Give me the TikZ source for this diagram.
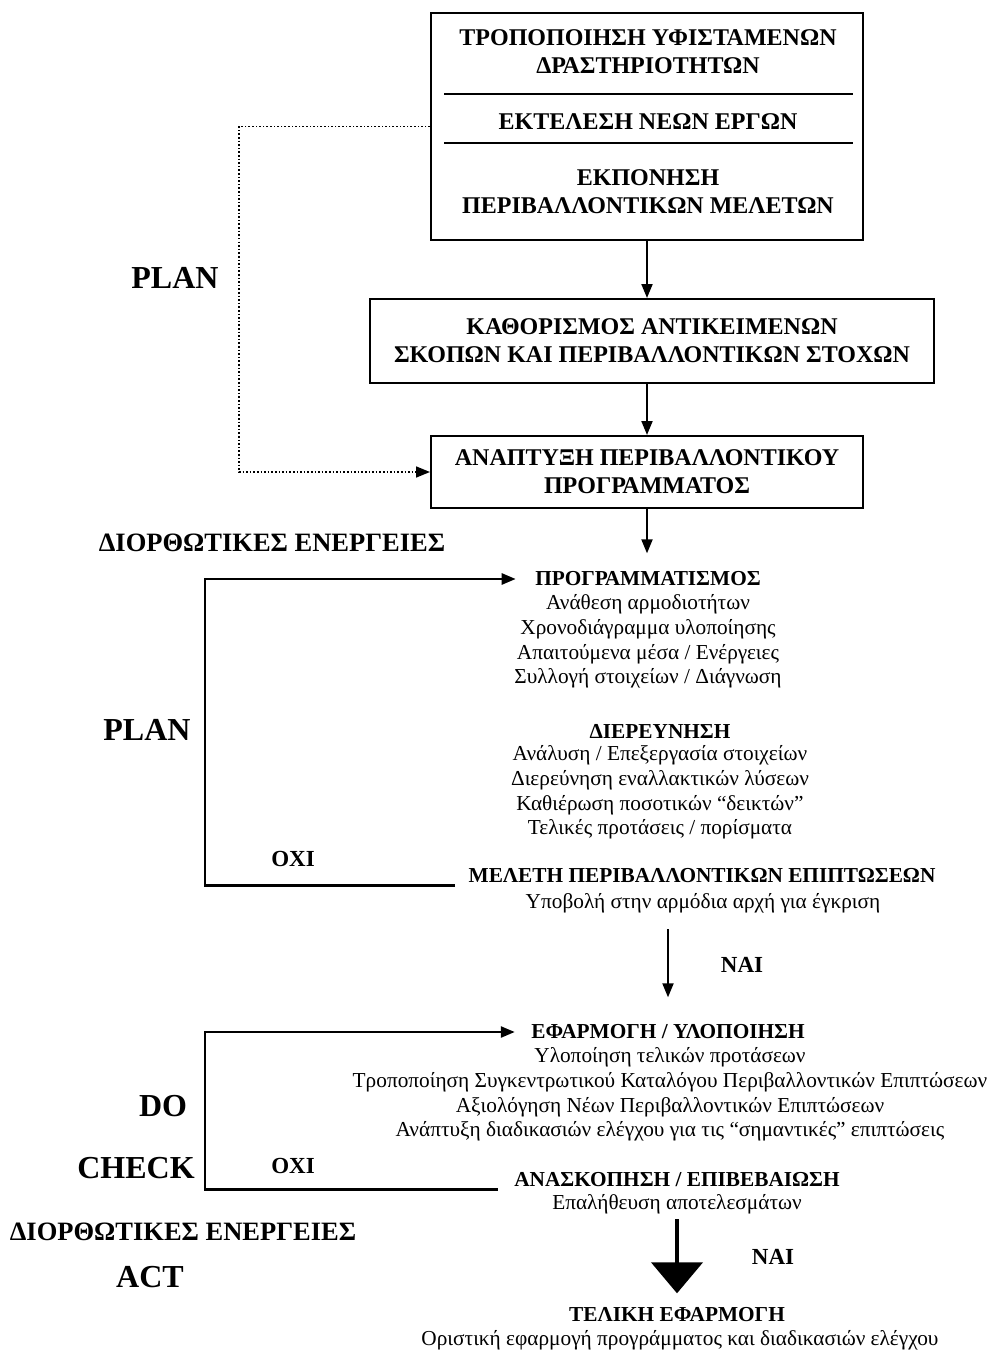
\documentclass[tikz,border=0pt]{standalone}
\usepackage{fontspec}
\setmainfont{Liberation Serif}
\usepackage{tikz}
\usetikzlibrary{arrows.meta,positioning,calc}

\tikzset{
  box/.style={draw,line width=2pt,inner sep=0pt},
  boxtxt/.style={align=center,font=\fontsize{24}{28}\selectfont\bfseries},
  arr/.style={line width=2pt,-{Triangle[length=14pt,width=11pt]}},
  loopline/.style={line width=2.5pt},
  bigarr/.style={line width=4.5pt,-{Triangle[length=31pt,width=51pt]}},
  biglabel/.style={font=\fontsize{32}{36}\selectfont\bfseries},
  midlabel/.style={font=\fontsize{23}{26}\selectfont\bfseries},
  corr/.style={font=\fontsize{26.5}{30}\selectfont\bfseries},
  head/.style={font=\fontsize{21.3}{24.8}\selectfont\bfseries},
  body/.style={align=center,font=\fontsize{21.3}{24.8}\selectfont}
}

\begin{document}
\begin{tikzpicture}[x=1pt,y=-1pt]
  \useasboundingbox (0,0) rectangle (989,1351);
  % Top box with three activities
  \node[box,minimum width=432pt,minimum height=227pt] (acts) at (647,126.5) {};
  \node[boxtxt] (modif) at (648,52) {ΤΡΟΠΟΠΟΙΗΣΗ ΥΦΙΣΤΑΜΕΝΩΝ\\ΔΡΑΣΤΗΡΙΟΤΗΤΩΝ};
  \node[boxtxt] (newwork) at (648,122) {ΕΚΤΕΛΕΣΗ ΝΕΩΝ ΕΡΓΩΝ};
  \node[boxtxt] (studies) at (648,192) {ΕΚΠΟΝΗΣΗ\\ΠΕΡΙΒΑΛΛΟΝΤΙΚΩΝ ΜΕΛΕΤΩΝ};
  \draw[line width=2pt] (444,94) -- (853,94);
  \draw[line width=2pt] (444,143) -- (853,143);
  % Goals and programme boxes
  \node[box,minimum width=564pt,minimum height=84pt,boxtxt] (goals) at (652,341)
    {ΚΑΘΟΡΙΣΜΟΣ ΑΝΤΙΚΕΙΜΕΝΩΝ\\ΣΚΟΠΩΝ ΚΑΙ ΠΕΡΙΒΑΛΛΟΝΤΙΚΩΝ ΣΤΟΧΩΝ};
  \node[box,minimum width=432pt,minimum height=72pt,boxtxt] (program) at (647,472)
    {ΑΝΑΠΤΥΞΗ ΠΕΡΙΒΑΛΛΟΝΤΙΚΟΥ\\ΠΡΟΓΡΑΜΜΑΤΟΣ};
  \draw[arr] (acts.south) -- (acts.south |- goals.north);
  \draw[arr] (goals.south -| program.north) -- (program.north);
  % Dotted feedback
  \coordinate (dotx) at (239,0);
  \draw[line width=1.6pt,dotted,-{Triangle[length=14pt,width=11pt]}]
    (acts.west) -| (dotx |- program.west) -- (program.west);
  \node[biglabel] (plan1) at (175,278) {PLAN};
  \node[corr] (corr1) at (272,543) {ΔΙΟΡΘΩΤΙΚΕΣ ΕΝΕΡΓΕΙΕΣ};

  % Planning stage
  \node[head] (prog) at (648,579) {ΠΡΟΓΡΑΜΜΑΤΙΣΜΟΣ};
  \node[body] (progtxt) at (648,641.5) {Ανάθεση αρμοδιοτήτων\\Χρονοδιάγραμμα υλοποίησης\\Απαιτούμενα μέσα / Ενέργειες\\Συλλογή στοιχείων / Διάγνωση};
  \node[head] (dier) at (660,731) {ΔΙΕΡΕΥΝΗΣΗ};
  \node[body] (diertxt) at (660,792.5) {Ανάλυση / Επεξεργασία στοιχείων\\Διερεύνηση εναλλακτικών λύσεων\\Καθιέρωση ποσοτικών “δεικτών”\\Τελικές προτάσεις / πορίσματα};
  \node[head] (meleti) at (702,876) {ΜΕΛΕΤΗ ΠΕΡΙΒΑΛΛΟΝΤΙΚΩΝ ΕΠΙΠΤΩΣΕΩΝ};
  \node[body] (ypob) at (703,903) {Υποβολή στην αρμόδια αρχή για έγκριση};
  \draw[arr] (program.south) -- ([yshift=15pt]program.south |- prog.north);
  \coordinate (loopx) at (205,0);
  \draw[loopline,-{Triangle[length=14pt,width=11pt]}]
    ([xshift=-10pt,yshift=1pt]meleti.south west) -- ([yshift=1pt]meleti.south west -| loopx)
    |- ([xshift=-16pt]prog.west);
  \node[biglabel] (plan2) at (147,730) {PLAN};
  \node[midlabel] (no1) at (293,859) {ΟΧΙ};

  % Yes, to implementation
  \node[head] (efarm) at (668,1032) {ΕΦΑΡΜΟΓΗ / ΥΛΟΠΟΙΗΣΗ};
  \node[body] (efarmtxt) at (670,1094.5) {Υλοποίηση τελικών προτάσεων\\Τροποποίηση Συγκεντρωτικού Καταλόγου Περιβαλλοντικών Επιπτώσεων\\Αξιολόγηση Νέων Περιβαλλοντικών Επιπτώσεων\\Ανάπτυξη διαδικασιών ελέγχου για τις “σημαντικές” επιπτώσεις};
  \draw[arr] ([yshift=-13pt]ypob.south -| efarm.north) -- ([yshift=24pt]efarm.north);
  \node[midlabel] (yes1) at (742,965) {ΝΑΙ};
  \node[head] (anask) at (677,1180) {ΑΝΑΣΚΟΠΗΣΗ / ΕΠΙΒΕΒΑΙΩΣΗ};
  \node[body] (verif) at (677,1204) {Επαλήθευση αποτελεσμάτων};
  \draw[loopline,-{Triangle[length=14pt,width=11pt]}]
    ([xshift=-13pt,yshift=1pt]anask.south west) -- ([yshift=1pt]anask.south west -| loopx)
    |- ([xshift=-13pt]efarm.west);
  \node[biglabel] (do) at (163,1106) {DO};
  \node[biglabel] (check) at (136,1168) {CHECK};
  \node[midlabel] (no2) at (293,1166) {ΟΧΙ};
  \node[corr] (corr2) at (183,1232) {ΔΙΟΡΘΩΤΙΚΕΣ ΕΝΕΡΓΕΙΕΣ};
  \node[biglabel] (act) at (150,1277) {ACT};

  % Final implementation
  \node[head] (teliki) at (677,1315) {ΤΕΛΙΚΗ ΕΦΑΡΜΟΓΗ};
  \node[body] (orist) at (680,1340) {Οριστική εφαρμογή προγράμματος και διαδικασιών ελέγχου};
  \draw[bigarr] ([yshift=-2pt]verif.south) -- ([yshift=11pt]teliki.north);
  \node[midlabel] (yes2) at (773,1257) {ΝΑΙ};
\end{tikzpicture}
\end{document}
